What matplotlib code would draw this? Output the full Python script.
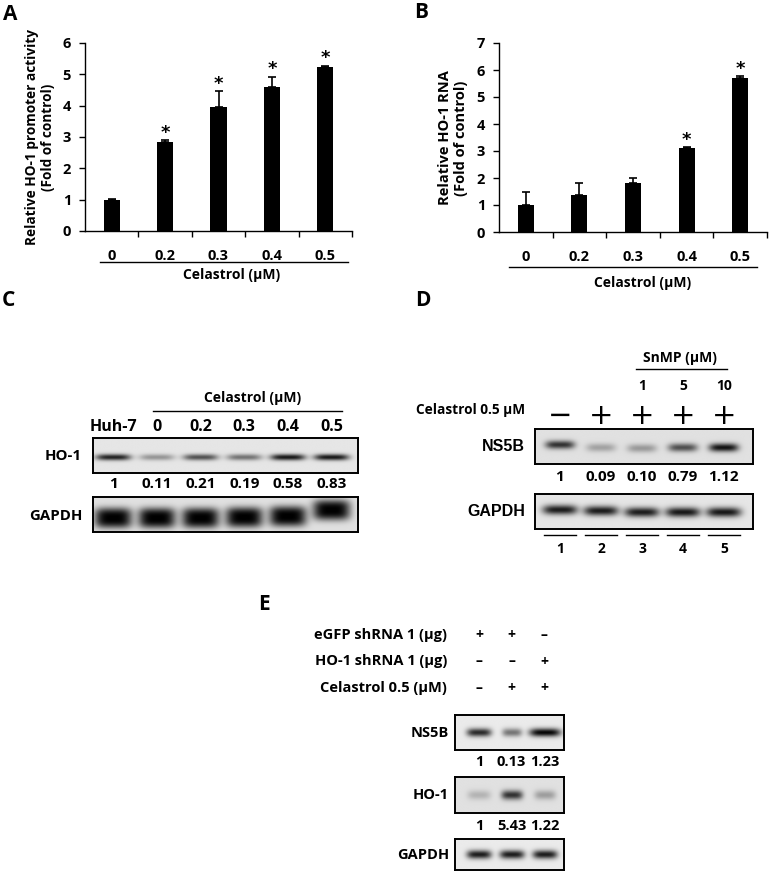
#!/usr/bin/env python3
import numpy as np
import matplotlib

matplotlib.use("Agg")
import matplotlib.pyplot as plt  # noqa: E402
from matplotlib.transforms import blended_transform_factory  # noqa: E402

W, H = 769, 881
FONT = ["Open Sans", "DejaVu Sans"]
plt.rcParams["font.family"] = FONT
plt.rcParams["font.weight"] = "bold"

# ---- data -------------------------------------------------------------------
doses = ["0", "0.2", "0.3", "0.4", "0.5"]
a_vals = [1.0, 2.85, 3.97, 4.6, 5.25]
a_err = [0.02, 0.05, 0.5, 0.33, 0.03]
a_sig = [False, True, True, True, True]

b_vals = [1.0, 1.37, 1.82, 3.12, 5.7]
b_err = [0.48, 0.44, 0.18, 0.03, 0.07]
b_sig = [False, False, False, True, True]

c_lanes = ["Huh-7", "0", "0.2", "0.3", "0.4", "0.5"]
c_ho1 = [0.85, 0.35, 0.65, 0.5, 0.9, 0.9]
c_ho1_txt = ["1", "0.11", "0.21", "0.19", "0.58", "0.83"]
c_gapdh = [1.0, 1.0, 1.0, 1.0, 1.0, 1.0]

d_celastrol = ["\u2212", "+", "+", "+", "+"]
d_snmp = ["", "", "1", "5", "10"]
d_ns5b = [0.78, 0.28, 0.32, 0.65, 0.92]
d_ns5b_txt = ["1", "0.09", "0.10", "0.79", "1.12"]
d_gapdh = [0.88, 0.88, 0.88, 0.9, 0.9]
d_lane_no = ["1", "2", "3", "4", "5"]

e_rows = ["eGFP shRNA 1 (\u03bcg)", "HO-1 shRNA 1 (\u03bcg)", "Celastrol 0.5 (\u03bcM)"]
e_signs = [["+", "+", "\u2013"], ["\u2013", "\u2013", "+"], ["\u2013", "+", "+"]]
e_ns5b = [0.82, 0.5, 0.98]
e_ns5b_txt = ["1", "0.13", "1.23"]
e_ho1 = [0.2, 0.78, 0.3]
e_ho1_txt = ["1", "5.43", "1.22"]
e_gapdh = [0.88, 0.88, 0.88]


def fx(x):
    return x / W


def fy(y):
    return 1 - y / H


def rect(left, right, top, bottom):
    return [fx(left), fy(bottom), (right - left) / W, (bottom - top) / H]


fig = plt.figure(figsize=(W / 100, H / 100), dpi=100)


def ftext(x, y, s, size=9.5, ha="center", va="center", **kw):
    fig.text(fx(x), fy(y), s, fontsize=size, ha=ha, va=va, fontweight="bold", **kw)


def fline(x0, x1, y, lw=1.0):
    fig.add_artist(plt.Line2D([fx(x0), fx(x1)], [fy(y), fy(y)], color="black", lw=lw))


def bar_panel(box, vals, err, sig, ymax, ylabel, ylab_xy, ylab_size, line, xlab_xy):
    ax = fig.add_axes(rect(*box))
    x = np.arange(len(vals))
    ax.bar(x, vals, width=0.3, color="black")
    ax.errorbar(x, vals, yerr=[np.zeros(len(err)), err], fmt="none", ecolor="black",
                elinewidth=1.2, capsize=3, capthick=1.2)
    for xi, v, e, s in zip(x, vals, err, sig):
        if s:
            ax.text(xi, v + e - ymax * 0.01, "*", ha="center", va="bottom", fontsize=13,
                    fontweight="bold", family=["DejaVu Sans"])
    ax.set_xlim(-0.5, 4.5)
    ax.set_ylim(0, ymax)
    ax.set_yticks(range(ymax + 1))
    ax.set_xticks(np.arange(0.5, 5, 1.0))
    ax.set_xticklabels([])
    ax.set_xticks(x, minor=True)
    ax.set_xticklabels(doses, minor=True, fontsize=10.5, fontweight="bold")
    ax.tick_params(axis="x", which="minor", length=0, pad=13)
    ax.tick_params(axis="x", which="major", length=4, width=1, direction="out")
    ax.tick_params(axis="y", length=4, width=1, direction="out", labelsize=10.5, pad=6)
    for lab in ax.get_yticklabels():
        lab.set_fontweight("bold")
    for side in ("top", "right"):
        ax.spines[side].set_visible(False)
    for side in ("left", "bottom"):
        ax.spines[side].set_linewidth(1.0)
    ftext(*ylab_xy, ylabel, size=ylab_size, rotation=90, multialignment="center",
          linespacing=1.25)
    fline(*line)
    ftext(*xlab_xy, "Celastrol (\u03bcM)", size=10)
    return ax


def blot(box, bands, xlim, yc, width, height, bg, yexp=2):
    ax = fig.add_axes(rect(*box))
    xs = np.linspace(xlim[0], xlim[1], 500)
    ys = np.linspace(0, 1, 120)
    gx, gy = np.meshgrid(xs, ys)
    keep = np.ones_like(gx)
    ycs = yc if isinstance(yc, (list, tuple)) else [yc] * len(bands)
    ws = width if isinstance(width, (list, tuple)) else [width] * len(bands)
    for i, (dark, yci, wi) in enumerate(zip(bands, ycs, ws)):
        prof = np.exp(-np.abs((gx - i) / (wi / 2)) ** 4) * np.exp(-np.abs((gy - yci) / height) ** yexp)
        keep *= 1 - dark * prof
    img = bg * keep
    ax.imshow(img, cmap="gray", vmin=0, vmax=1, extent=(xlim[0], xlim[1], 0, 1),
              origin="lower", aspect="auto", interpolation="bilinear")
    ax.set_xlim(*xlim)
    ax.set_ylim(0, 1)
    ax.set_xticks([])
    ax.set_yticks([])
    for sp in ax.spines.values():
        sp.set_linewidth(1.4)
    return ax


def lane_text(ax, labels, y, size=9.5, weight="bold", family=None):
    tr = blended_transform_factory(ax.transData, fig.transFigure)
    for i, s in enumerate(labels):
        if s:
            ax.text(i, fy(y), s, transform=tr, ha="center", va="center", fontsize=size,
                    fontweight=weight, family=family or FONT, clip_on=False)


# ---- A ----------------------------------------------------------------------
ftext(10, 14, "A", size=15)
bar_panel((85, 352, 43, 231), a_vals, a_err, a_sig, 6,
          "Relative HO-1 promoter activity\n(Fold of control)", (40, 137), 9.8,
          (100, 348, 262), (232, 275))

# ---- B ----------------------------------------------------------------------
ftext(421, 12, "B", size=15)
bar_panel((499, 767, 43, 232), b_vals, b_err, b_sig, 7,
          "Relative HO-1 RNA\n(Fold of control)", (453, 138), 10.5,
          (509, 757, 267), (643, 283))

# ---- C ----------------------------------------------------------------------
ftext(8, 300, "C", size=15)
c_xlim = (-0.46, 5.6)
ax_c1 = blot((93, 358, 438, 473), c_ho1, c_xlim, 0.45, 0.8, 0.09, 0.9)
ax_c2 = blot((93, 358, 497, 532), c_gapdh, c_xlim, [0.4, 0.4, 0.4, 0.42, 0.45, 0.63],
             0.85, 0.29, 0.88, yexp=3)
ftext(253, 398, "Celastrol (\u03bcM)", size=10)
fline(153, 342, 411)
lane_text(ax_c1, c_lanes, 427, size=11.5)
lane_text(ax_c1, c_ho1_txt, 484, size=11)
ftext(82, 456, "HO-1", size=10.8, ha="right")
ftext(82, 516, "GAPDH", size=10.8, ha="right")

# ---- D ----------------------------------------------------------------------
ftext(423, 300, "D", size=15)
d_xlim = (-0.61, 4.71)
ax_d1 = blot((535, 753, 429, 464), d_ns5b, d_xlim, [0.55, 0.47, 0.45, 0.47, 0.47],
             0.72, 0.12, 0.88)
ax_d2 = blot((535, 753, 494, 529), d_gapdh, d_xlim, [0.55, 0.52, 0.48, 0.48, 0.48],
             0.85, 0.14, 0.9)
ftext(680, 358, "SnMP (\u03bcM)", size=10)
tr_d = blended_transform_factory(ax_d1.transData, fig.transFigure)
ax_d1.plot([1.85, 4.08], [fy(369), fy(369)], color="black", lw=1.0, transform=tr_d, clip_on=False)
lane_text(ax_d1, d_snmp, 386, size=10)
ftext(525, 410, "Celastrol 0.5 \u03bcM", size=9.8, ha="right")
lane_text(ax_d1, d_celastrol, 416, size=21, weight="normal", family=["DejaVu Sans"])
ftext(525, 447, "NS5B", size=11.5, ha="right", family=["Liberation Sans"])
ftext(525, 511, "GAPDH", size=11.5, ha="right", family=["Liberation Sans"])
lane_text(ax_d1, d_ns5b_txt, 477, size=11)
for i in range(len(d_lane_no)):
    ax_d1.plot([i - 0.39, i + 0.39], [fy(535), fy(535)], color="black", lw=1.0,
               transform=tr_d, clip_on=False)
lane_text(ax_d1, d_lane_no, 549, size=10)

# ---- E ----------------------------------------------------------------------
ftext(264, 604, "E", size=15)
e_xlim = (-0.73, 2.6)
ax_e1 = blot((455, 564, 715, 750), e_ns5b, e_xlim, 0.5, [0.75, 0.6, 0.95], 0.12, 0.92)
ax_e2 = blot((455, 564, 777, 813), e_ho1, e_xlim, 0.5, [0.7, 0.65, 0.65], 0.13, 0.88)
ax_e3 = blot((455, 564, 839, 870), e_gapdh, e_xlim, 0.5, 0.75, 0.14, 0.92)
for row, (lab, signs) in enumerate(zip(e_rows, e_signs)):
    y = 635 + row * 26.5
    ftext(447, y, lab, size=10.5, ha="right")
    lane_text(ax_e1, signs, y, size=10)
ftext(449, 733, "NS5B", size=10.5, ha="right")
ftext(449, 795, "HO-1", size=10.5, ha="right")
ftext(449, 855, "GAPDH", size=10.5, ha="right")
lane_text(ax_e1, e_ns5b_txt, 762, size=10.5)
lane_text(ax_e2, e_ho1_txt, 826, size=10.5)

fig.savefig("out.png", dpi=100)
